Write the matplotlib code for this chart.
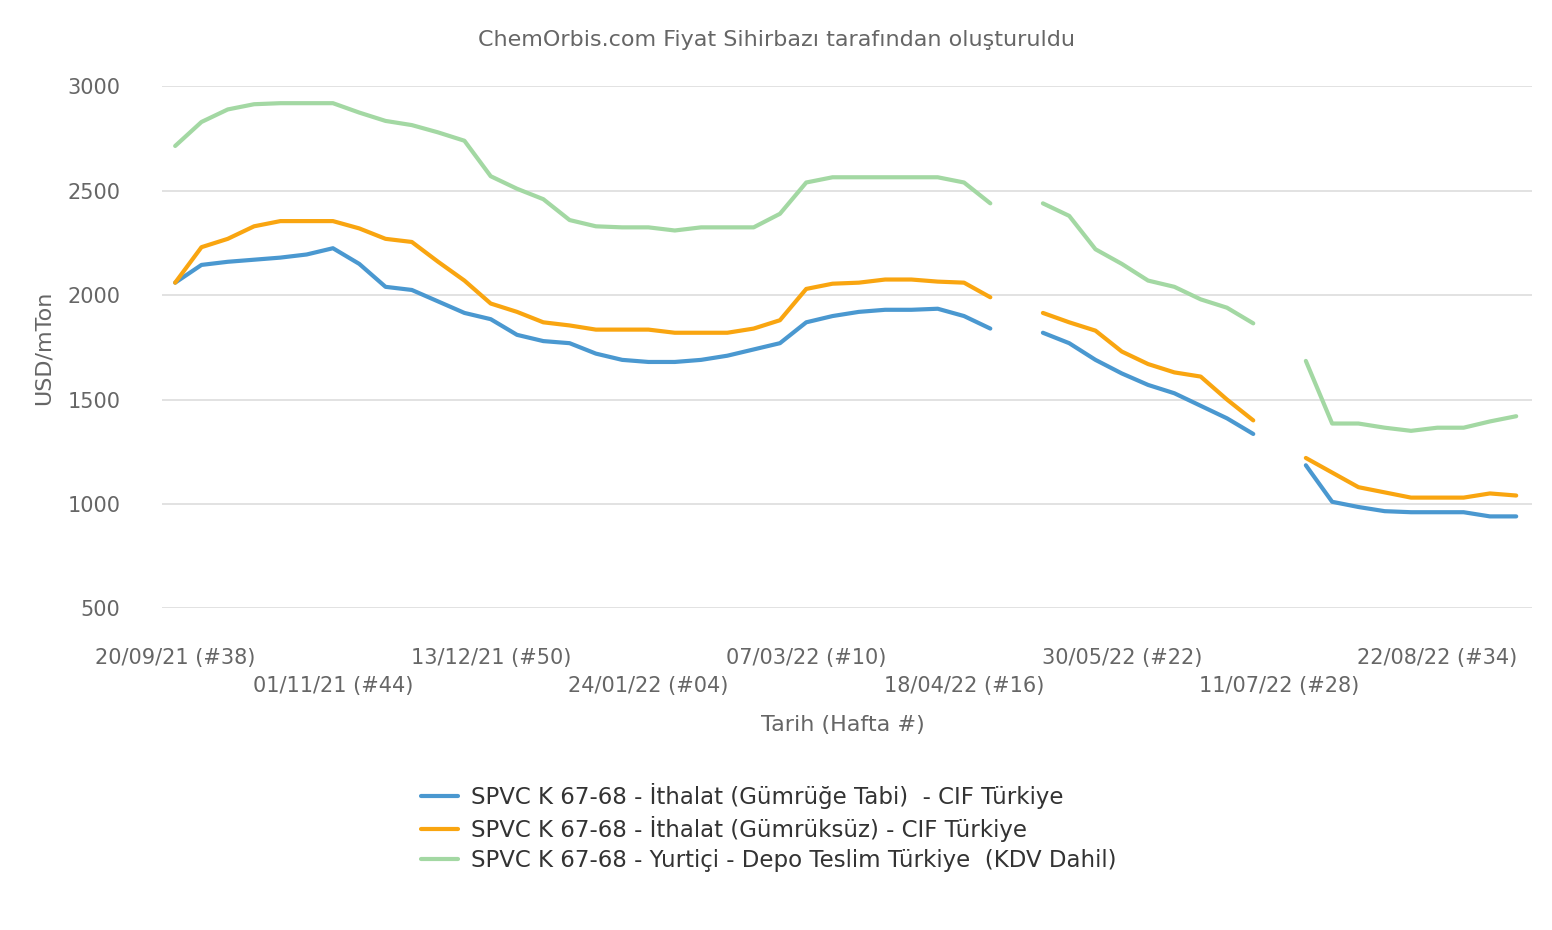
import numpy as np
import matplotlib.pyplot as plt

nan = np.nan
tick_labels = ["20/09/21 (#38)", "01/11/21 (#44)", "13/12/21 (#50)", "24/01/22 (#04)",
               "07/03/22 (#10)", "18/04/22 (#16)", "30/05/22 (#22)", "11/07/22 (#28)",
               "22/08/22 (#34)"]
tick_pos = [0, 6, 12, 18, 24, 30, 36, 42, 48]

blue = [2060, 2145, 2160, 2170, 2180, 2195, 2225, 2150, 2040, 2025, 1970, 1915, 1885,
        1810, 1780, 1770, 1720, 1690, 1680, 1680, 1690, 1710, 1740, 1770, 1870, 1900,
        1920, 1930, 1930, 1935, 1900, 1840, nan, 1820, 1770, 1690, 1625, 1570, 1530,
        1470, 1410, 1335, nan, 1185, 1010, 985, 965, 960, 960, 960, 940, 940]
orange = [2060, 2230, 2270, 2330, 2355, 2355, 2355, 2320, 2270, 2255, 2160, 2070, 1960,
          1920, 1870, 1855, 1835, 1835, 1835, 1820, 1820, 1820, 1840, 1880, 2030, 2055,
          2060, 2075, 2075, 2065, 2060, 1990, nan, 1915, 1870, 1830, 1730, 1670, 1630,
          1610, 1500, 1400, nan, 1220, 1150, 1080, 1055, 1030, 1030, 1030, 1050, 1040]
green = [2715, 2830, 2890, 2915, 2920, 2920, 2920, 2875, 2835, 2815, 2780, 2740, 2570,
         2510, 2460, 2360, 2330, 2325, 2325, 2310, 2325, 2325, 2325, 2390, 2540, 2565,
         2565, 2565, 2565, 2565, 2540, 2440, nan, 2440, 2380, 2220, 2150, 2070, 2040,
         1980, 1940, 1865, nan, 1685, 1385, 1385, 1365, 1350, 1365, 1365, 1395, 1420]
names = ["SPVC K 67-68 - İthalat (Gümrüğe Tabi)  - CIF Türkiye",
         "SPVC K 67-68 - İthalat (Gümrüksüz) - CIF Türkiye",
         "SPVC K 67-68 - Yurtiçi - Depo Teslim Türkiye  (KDV Dahil)"]
colors = ["#4a98d0", "#f9a510", "#a3d8a3"]

fig = plt.figure(figsize=(15.52, 9.30), dpi=100)
ax = fig.add_axes([0.1044, 0.346, 0.8827, 0.561])
x = np.arange(len(blue))
for s, n, c in zip([blue, orange, green], names, colors):
    ax.plot(x, s, color=c, lw=3, label=n, solid_capstyle='round')

ax.set_xlim(-0.5, 51.6)
ax.set_ylim(500, 3000)
ax.set_yticks([500, 1000, 1500, 2000, 2500, 3000])
ax.grid(axis='y', color='#dddddd', lw=1.2)
ax.set_axisbelow(True)
for sp in ax.spines.values():
    sp.set_visible(False)
ax.tick_params(axis='y', length=0, labelsize=15, labelcolor='#666666', pad=30)
ax.set_xticks(tick_pos)
ax.set_xticklabels([])
ax.tick_params(axis='x', length=0)
for i, (p, l) in enumerate(zip(tick_pos, tick_labels)):
    ax.annotate(l, (p, 0), xycoords=('data', 'axes fraction'), xytext=(0, -50 if i % 2 == 0 else -78),
                textcoords='offset pixels', ha='center', va='center',
                fontsize=15, color='#666666')
ax.set_ylabel("USD/mTon", fontsize=16, color='#666666', labelpad=10)
fig.text(0.543, 0.22, "Tarih (Hafta #)", ha='center', va='center', fontsize=16, color='#666666')
fig.text(0.5, 0.957, "ChemOrbis.com Fiyat Sihirbazı tarafından oluşturuldu", ha='center',
         va='center', fontsize=16, color='#666666')
fig.legend(loc='upper left', bbox_to_anchor=(0.258, 0.18), frameon=False, fontsize=16.5,
           handlelength=1.6, handletextpad=0.6, labelspacing=0.3, labelcolor='#333333')
fig.savefig("out.png")
